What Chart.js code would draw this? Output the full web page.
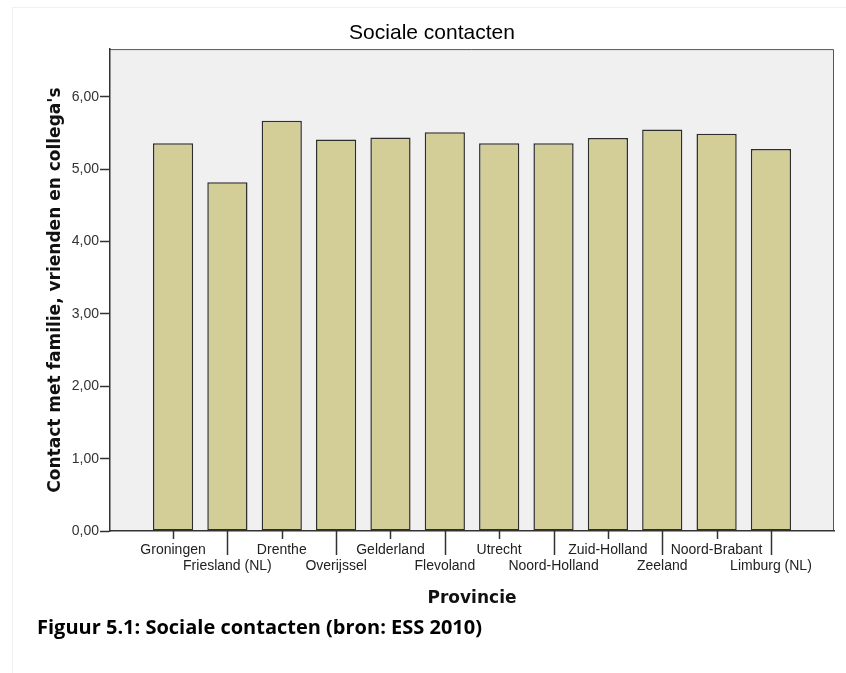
<!DOCTYPE html>
<html>
<head>
<meta charset="utf-8">
<script src="https://cdn.jsdelivr.net/npm/chart.js@4/dist/chart.umd.min.js"></script>
<style>
  body { margin: 0; background: #fff; }
  #wrap { position: relative; width: 846px; height: 673px; }
  #kader { position: absolute; left: 12px; top: 7px; right: 0; bottom: 0;
           border-left: 1px solid #f1f1f1; border-top: 1px solid #f1f1f1; }
  #bijschrift { position: absolute; left: 37px; top: 615px; font: bold 20px "Open Sans", sans-serif;
                line-height: 24px; color: #000; white-space: nowrap; }
  canvas { position: absolute; left: 0; top: 0; }
</style>
</head>
<body>
<div id="wrap">
  <div id="kader"></div>
  <canvas id="grafiek" width="846" height="673"></canvas>
  <div id="bijschrift">Figuur 5.1: Sociale contacten (bron: ESS 2010)</div>
</div>
<script>
// Gemiddelde sociale contacten per provincie (ESS 2010)
const provincies = ["Groningen", "Friesland (NL)", "Drenthe", "Overijssel", "Gelderland", "Flevoland",
                    "Utrecht", "Noord-Holland", "Zuid-Holland", "Zeeland", "Noord-Brabant", "Limburg (NL)"];
const gemiddelden = [5.36, 4.82, 5.67, 5.41, 5.44, 5.51, 5.36, 5.36, 5.43, 5.55, 5.49, 5.28];
const yTicks = [0, 1, 2, 3, 4, 5, 6];

// Grijze plotachtergrond met kader
const plotAchtergrond = {
    id: 'plotAchtergrond',
    beforeDraw(chart) {
        const {ctx, chartArea: a} = chart;
        ctx.save();
        ctx.fillStyle = '#f0f0f0';
        ctx.fillRect(a.left, a.top, a.right - a.left, a.bottom - a.top);
        ctx.strokeStyle = '#555';
        ctx.lineWidth = 1;
        ctx.beginPath();
        ctx.moveTo(a.left, a.top + 0.5);
        ctx.lineTo(a.right - 0.5, a.top + 0.5);
        ctx.lineTo(a.right - 0.5, a.bottom);
        ctx.stroke();
        ctx.restore();
    }
};

// Streepjes onder de x-as: kort voor de bovenste rij, lang voor de onderste
const xStreepjes = {
    id: 'xStreepjes',
    afterDraw(chart) {
        const {ctx, chartArea: a} = chart;
        const x = chart.scales.x;
        ctx.save();
        ctx.strokeStyle = '#333';
        ctx.lineWidth = 1.5;
        provincies.forEach((p, i) => {
            const px = Math.round(x.getPixelForValue(i)) + 0.5;
            ctx.beginPath();
            ctx.moveTo(px, a.bottom);
            ctx.lineTo(px, a.bottom + (i % 2 ? 24 : 8));
            ctx.stroke();
        });
        ctx.restore();
    }
};

new Chart(document.getElementById('grafiek').getContext('2d'), {
    type: 'bar',
    data: {
        datasets: [{
            data: provincies.map((p, i) => ({x: i, y: gemiddelden[i]})),
            backgroundColor: '#d3ce98',
            borderColor: '#2e2e2e',
            borderWidth: 1.5,
            borderSkipped: false,
            categoryPercentage: 1,
            barPercentage: 0.74
        }]
    },
    options: {
        responsive: false,
        animation: false,
        layout: { padding: { left: 30, right: 12, top: 0, bottom: 0 } },
        plugins: {
            legend: { display: false },
            tooltip: { enabled: false },
            title: {
                display: true,
                text: 'Sociale contacten',
                color: '#000',
                font: { family: 'Liberation Sans, Arial, sans-serif', size: 21, weight: 'normal', lineHeight: 1.1 },
                padding: { top: 22, bottom: 4 }
            }
        },
        scales: {
            x: {
                type: 'linear',
                offset: false,
                min: -1.16,
                max: 12.16,
                afterBuildTicks: s => { s.ticks = provincies.map((p, i) => ({value: i})); },
                afterFit: s => { s.height = 142; },
                grid: { display: false, drawTicks: false, offset: false },
                border: { color: '#333', width: 1.5 },
                ticks: {
                    autoSkip: false,
                    maxRotation: 0,
                    includeBounds: false,
                    padding: 11,
                    color: '#222',
                    font: { family: 'Liberation Sans, Arial, sans-serif', size: 14, lineHeight: 1.15 },
                    callback: v => (v % 2 ? ['', provincies[v]] : provincies[v])
                },
                title: {
                    display: true,
                    text: 'Provincie',
                    color: '#111',
                    font: { family: 'DejaVu Sans, sans-serif', size: 17, weight: 'bold', lineHeight: 1.2 },
                    padding: { top: 0, bottom: 64 }
                }
            },
            y: {
                min: 0,
                max: 6.66,
                afterBuildTicks: s => { s.ticks = yTicks.map(v => ({value: v})); },
                afterFit: s => { s.width = 80; },
                grid: { drawOnChartArea: false, tickLength: 10, color: '#333', tickWidth: 1.5 },
                border: { color: '#333', width: 1.5 },
                ticks: {
                    includeBounds: false,
                    padding: 1,
                    color: '#333',
                    font: { family: 'Liberation Sans, Arial, sans-serif', size: 14 },
                    callback: v => v.toFixed(2).replace('.', ',')
                },
                title: {
                    display: true,
                    text: "Contact met familie, vrienden en collega's",
                    color: '#111',
                    font: { family: 'DejaVu Sans, sans-serif', size: 17, weight: 'bold', lineHeight: 1.2 },
                    padding: { top: 15, bottom: 0 }
                }
            }
        }
    },
    plugins: [plotAchtergrond, xStreepjes]
});
</script>
</body>
</html>
